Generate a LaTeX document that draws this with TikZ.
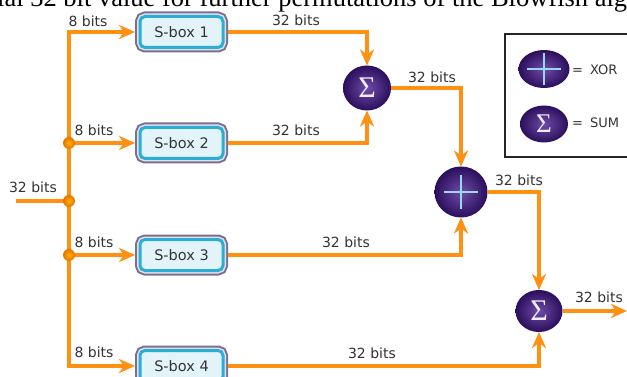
\documentclass[tikz,border=0pt]{standalone}
\usepackage{fontspec}
\setmainfont{Liberation Serif}
\newfontfamily\lblfont{DejaVu Sans}
\usetikzlibrary{arrows.meta,shapes.geometric}
\definecolor{wirecol}{HTML}{FF9012}
\definecolor{labelcol}{HTML}{333333}
\definecolor{boxout}{HTML}{7B6F8E}
\definecolor{boxgap}{HTML}{E6E0EE}
\definecolor{boxin}{HTML}{2AAED6}
\definecolor{boxfill}{HTML}{E2F4FA}
\definecolor{opin}{HTML}{6E4CA8}
\definecolor{opout}{HTML}{2B0E5C}
\definecolor{pluscol}{HTML}{9AD8F2}
\definecolor{sigcol}{HTML}{F2ECFA}
\begin{document}
\begin{tikzpicture}[x=1pt,y=-1pt,
  wire/.style={draw=wirecol,line width=4pt},
  arr/.style={-{Stealth[length=16pt,width=14pt,inset=5pt]}},
  lbl/.style={font=\lblfont\fontsize{14}{14}\selectfont,text=labelcol,inner sep=0pt},
  sbox/.style={rectangle,rounded corners=5pt,minimum width=83pt,minimum height=31pt,
    inner sep=0pt,outer sep=5pt,fill=boxfill,draw=boxin,line width=3pt,
    preaction={draw=boxout,line width=10pt},
    preaction={draw=boxgap,line width=6pt},
    font=\lblfont\fontsize{14.5}{14.5}\selectfont,text=labelcol},
  op/.style={ellipse,inner sep=0pt,outer sep=0pt,shading=radial,inner color=opin,outer color=opout,
    font=\fontsize{30}{30}\selectfont,text=sigcol},
  dot/.style={circle,minimum size=12pt,inner sep=0pt,shading=radial,inner color=orange!60!yellow,outer color=orange!90!black}]
\useasboundingbox (0,0) rectangle (627,377);
\clip (0,0) rectangle (627,377);
\fill[white] (0,0) rectangle (627,377);
% title line (cut off)
\node[anchor=base west,inner sep=0pt,font=\fontsize{26.5}{26.5}\selectfont] (title) at (-3,7) {ial 32 bit value for further permutations of the Blowfish algorithm};
% S-boxes
\node[sbox] (s1) at (181.5,32) {S-box 1};
\node[sbox] (s2) at (181.5,143) {S-box 2};
\node[sbox] (s3) at (181.5,255) {S-box 3};
\node[sbox] (s4) at (181.5,366) {S-box 4};
% operators
\node[op,minimum width=48pt,minimum height=45pt] (sum1) at (367,88) {Σ};
\node[op,minimum width=53pt,minimum height=51pt] (xor) at (461,192) {};
\draw[pluscol,line width=2pt] ([xshift=-17pt]xor.center) -- ([xshift=17pt]xor.center);
\draw[pluscol,line width=2pt] ([yshift=-17pt]xor.center) -- ([yshift=17pt]xor.center);
\node[op,minimum width=47pt,minimum height=42pt] (sum2) at (539,311) {Σ};
% trunk
\coordinate (in) at (16,201);
\coordinate (j2) at (69,143);
\coordinate (jm) at (69,201);
\coordinate (j3) at (69,255);
\coordinate (out) at (627,311);
\draw[wire,arr] (jm) |- (s1.west);
\draw[wire,arr] (jm) |- (s4.west);
\draw[wire] (in) -- (jm);
\draw[wire,arr] (j2) -- (s2.west);
\draw[wire,arr] (j3) -- (s3.west);
\node[dot] (d2) at (j2) {};
\node[dot] (dm) at (jm) {};
\node[dot] (d3) at (j3) {};
% connections
\draw[wire,arr] (s1.east) -| (sum1.north);
\draw[wire,arr] (s2.east) -| (sum1.south);
\draw[wire,arr] (sum1.east) -| (xor.north);
\draw[wire,arr] (s3.east) -| (xor.south);
\draw[wire,arr] (xor.east) -| (sum2.north);
\draw[wire,arr] (s4.east) -| (sum2.south);
\draw[wire,arr] (sum2.east) -- (out);
% labels
\node[lbl] (l0) at (33,187) {32 bits};
\node[lbl] (l1) at (88,21) {8 bits};
\node[lbl] (l2) at (94,130) {8 bits};
\node[lbl] (l3) at (94,242) {8 bits};
\node[lbl] (l4) at (94,352) {8 bits};
\node[lbl] (m1) at (296,20) {32 bits};
\node[lbl] (m2) at (296,130) {32 bits};
\node[lbl] (m3) at (432,77) {32 bits};
\node[lbl] (m4) at (519,180) {32 bits};
\node[lbl] (m5) at (346,242) {32 bits};
\node[lbl] (m6) at (599,297) {32 bits};
\node[lbl] (m7) at (372,353) {32 bits};
% legend
\draw[line width=2pt,draw=black!85] (505,34) rectangle (645,157);
\node[op,minimum width=51pt,minimum height=38pt] (lx) at (544,69) {};
\draw[pluscol,line width=2pt] ([xshift=-17pt]lx.center) -- ([xshift=17pt]lx.center);
\draw[pluscol,line width=2pt] ([yshift=-16pt]lx.center) -- ([yshift=16pt]lx.center);
\node[op,minimum width=48pt,minimum height=37pt,font=\fontsize{27}{27}\selectfont] (ls) at (544,124) {Σ};
\node[lbl,anchor=west,font=\lblfont\fontsize{13}{13}\selectfont] (tx) at (572,70) {=\hspace{7pt}XOR};
\node[lbl,anchor=west,font=\lblfont\fontsize{13}{13}\selectfont] (ts) at (572,123) {=\hspace{7pt}SUM};
\end{tikzpicture}
\end{document}
